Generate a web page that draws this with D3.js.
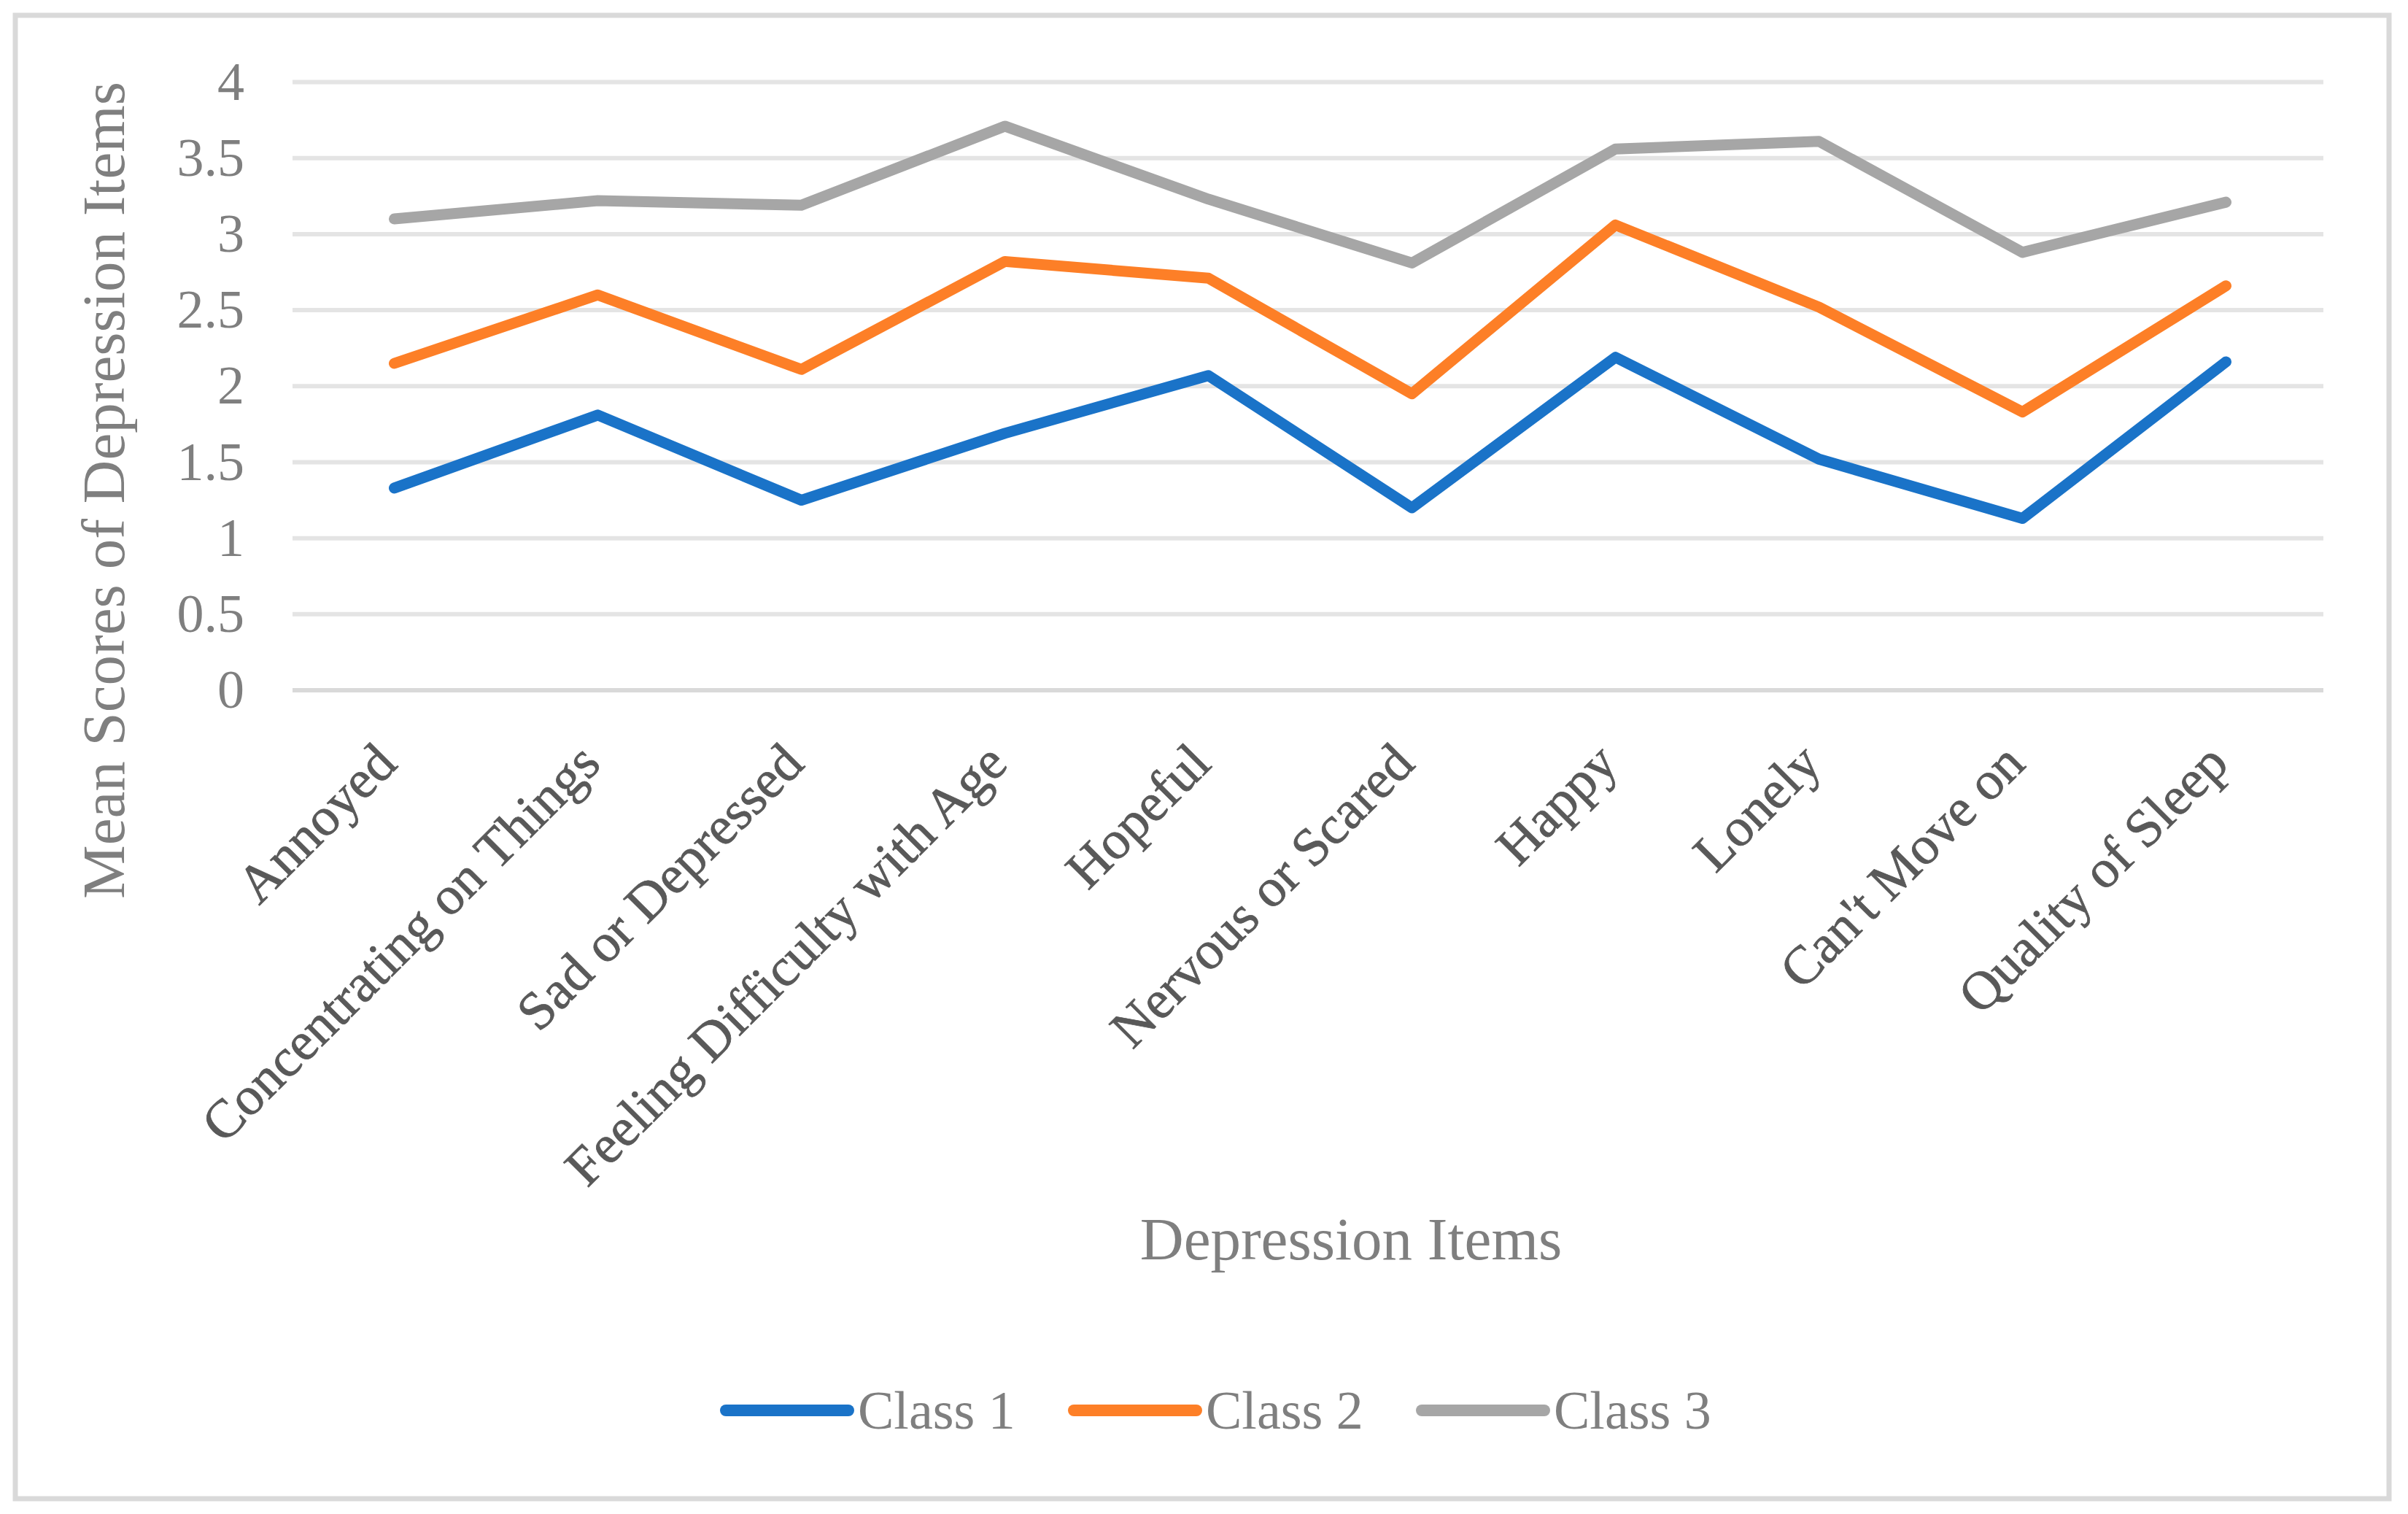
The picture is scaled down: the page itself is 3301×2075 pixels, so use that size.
<!DOCTYPE html>
<html>
<head>
<meta charset="utf-8">
<script src="https://cdn.jsdelivr.net/npm/d3@7"></script>
<style>
  body { margin: 0; background: #fff; }
  text { font-family: "Liberation Serif", "Times New Roman", serif; }
</style>
</head>
<body>
<div id="chart"></div>
<script>
// Data
const items = ["Annoyed", "Concentrating on Things", "Sad or Depressed", "Feeling Difficulty with Age",
  "Hopeful", "Nervous or Scared", "Happy", "Lonely", "Can't Move on", "Quality of Sleep"];
const class1 = [1.33, 1.81, 1.25, 1.69, 2.07, 1.20, 2.19, 1.52, 1.13, 2.16];
const class2 = [2.15, 2.60, 2.11, 2.82, 2.71, 1.95, 3.06, 2.52, 1.83, 2.66];
const class3 = [3.10, 3.22, 3.19, 3.71, 3.23, 2.81, 3.56, 3.61, 2.88, 3.21];
const seriesNames = ["Class 1", "Class 2", "Class 3"];
const seriesColors = ["#1a73c8", "#fd7f27", "#a6a6a6"];
const yTicks = [0, 0.5, 1, 1.5, 2, 2.5, 3, 3.5, 4];

const series = [class1, class2, class3].map((vals, i) => ({
  name: seriesNames[i], color: seriesColors[i], values: vals
}));

// Container
const width = 3301;
const height = 2075;
const svg = d3.select("#chart").append("svg")
    .attr("width", width)
    .attr("height", height);

svg.append("rect")
    .attr("x", 21).attr("y", 21)
    .attr("width", 3254).attr("height", 2033)
    .attr("fill", "#fff")
    .attr("stroke", "#d9d9d9")
    .attr("stroke-width", 7);

const x = d3.scalePoint()
    .domain(items)
    .range([401, 3191])
    .padding(0.5);

const y = d3.scaleLinear()
    .domain([0, 4])
    .range([946, 112.5]);

// Gridlines
svg.append("g")
  .selectAll("line")
  .data(yTicks)
  .join("line")
    .attr("x1", 401).attr("x2", 3185)
    .attr("y1", d => y(d)).attr("y2", d => y(d))
    .attr("stroke", d => d === 0 ? "#d9d9d9" : "#e4e4e4")
    .attr("stroke-width", 6);

// Y axis
const yAxis = svg.append("g")
    .attr("transform", "translate(335,0)")
    .call(d3.axisLeft(y).tickValues(yTicks).tickSize(0).tickPadding(0).tickFormat(d3.format("")));
yAxis.select(".domain").remove();
yAxis.selectAll("text")
    .attr("font-size", 74)
    .attr("fill", "#7f7f7f")
    .attr("dy", "0.32em")
    .style("font-family", "'Liberation Serif', 'Times New Roman', serif");

// X axis labels, rotated
const xAxis = svg.append("g")
    .attr("transform", "translate(0,946)")
    .call(d3.axisBottom(x).tickSize(0).tickPadding(0));
xAxis.select(".domain").remove();
xAxis.selectAll("text")
    .attr("font-size", 74)
    .attr("fill", "#595959")
    .attr("stroke", "#595959")
    .attr("stroke-width", 0.8)
    .attr("text-anchor", "end")
    .attr("dy", null)
    .attr("y", null)
    .attr("transform", "translate(6,104) rotate(-45)")
    .style("font-family", "'Liberation Serif', 'Times New Roman', serif");

// Lines
const line = d3.line()
    .x((d, i) => x(items[i]))
    .y(d => y(d));

svg.append("g")
  .selectAll("path")
  .data(series)
  .join("path")
    .attr("d", d => line(d.values))
    .attr("fill", "none")
    .attr("stroke", d => d.color)
    .attr("stroke-width", 15)
    .attr("stroke-linecap", "round")
    .attr("stroke-linejoin", "round");

// Axis titles
svg.append("text")
    .attr("transform", "translate(170,672) rotate(-90)")
    .attr("text-anchor", "middle")
    .attr("font-size", 83)
    .attr("fill", "#7f7f7f")
    .text("Mean Scores of Depression Items");

svg.append("text")
    .attr("x", 1852)
    .attr("y", 1726)
    .attr("text-anchor", "middle")
    .attr("font-size", 83)
    .attr("fill", "#7f7f7f")
    .text("Depression Items");

// Legend
const legend = svg.append("g")
  .selectAll("g")
  .data(series)
  .join("g")
    .attr("transform", (d, i) => `translate(${995 + i * 477},1933)`);

legend.append("line")
    .attr("x1", 0).attr("x2", 168)
    .attr("y1", 0).attr("y2", 0)
    .attr("stroke", d => d.color)
    .attr("stroke-width", 16)
    .attr("stroke-linecap", "round");

legend.append("text")
    .attr("x", 181)
    .attr("y", 25)
    .attr("font-size", 74)
    .attr("fill", "#7f7f7f")
    .text(d => d.name);
</script>
</body>
</html>
